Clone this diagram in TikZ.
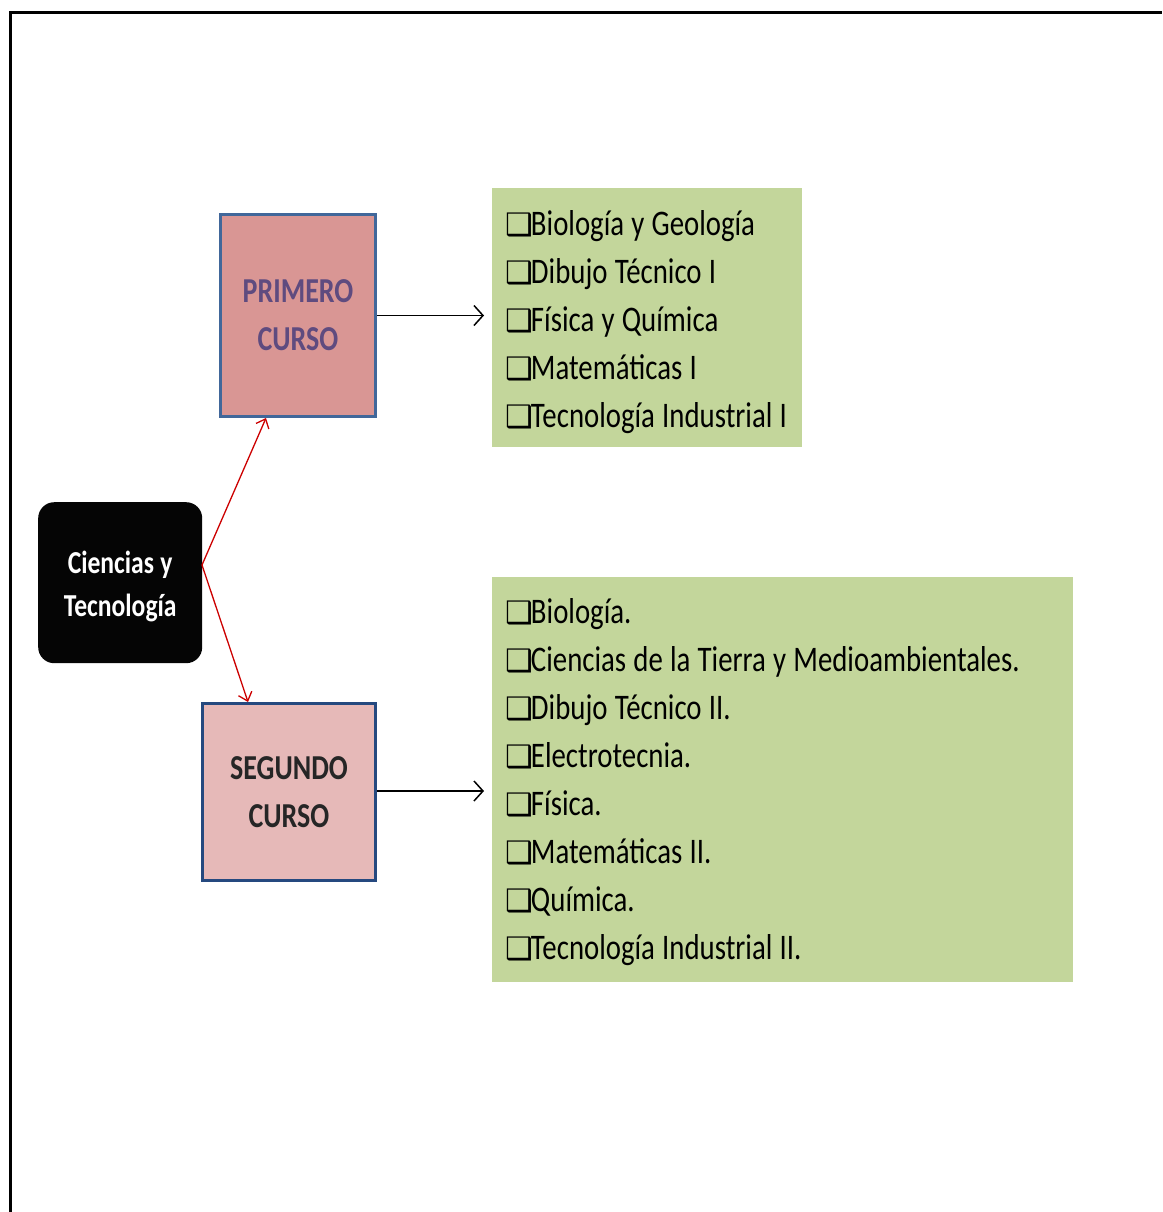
\documentclass[tikz,border=0pt]{standalone}
\usepackage{fontspec}
\setmainfont{Carlito}[FakeStretch=0.8]
\newfontfamily\boxfont{DejaVu Sans Bold}
\usetikzlibrary{arrows.meta}
\definecolor{primfill}{HTML}{D99694}
\definecolor{primdraw}{HTML}{41679A}
\definecolor{primtext}{HTML}{5F4B7F}
\definecolor{segfill}{HTML}{E6B9B8}
\definecolor{segdraw}{HTML}{25497F}
\definecolor{segtext}{HTML}{262626}
\definecolor{listgreen}{HTML}{C3D69B}
\definecolor{linkred}{HTML}{CC0000}
\newcommand{\tightsp}{\spaceskip=0.2em plus 0.05em minus 0.02em\relax}
\newcommand{\chk}{{\boxfont\fontsize{31}{31}\selectfont ❑}\hspace{-2pt}\tightsp}
\tikzset{
  frameline/.style={line width=3pt, black},
  rootbox/.style={fill=black!98, rounded corners=16pt, minimum width=164pt, minimum height=161pt, anchor=north west, align=center, text=white, font=\fontsize{32}{43}\selectfont\bfseries, inner sep=0pt},
  coursebox/.style={line width=3pt, anchor=north west, align=center, font=\fontsize{35}{48}\selectfont\bfseries, inner sep=0pt},
  listbox/.style={fill=listgreen, anchor=north west, align=left, inner xsep=13pt, inner ysep=0pt, font=\fontsize{36}{48}\selectfont, text=black},
  blackarrow/.style={line width=1.5pt, -{Straight Barb[length=9pt,width=20pt,line width=1.5pt]}},
  redarrow/.style={line width=1.3pt, linkred, -{Straight Barb[length=8pt,width=14pt,line width=1.3pt]}}
}
\begin{document}
\begin{tikzpicture}[x=1pt,y=-1pt]
\useasboundingbox (0,0) rectangle (1162,1212);
\coordinate (fa) at (10,1212);
\coordinate (fb) at (10,13);
\coordinate (fc) at (1162,13);
\draw[frameline] (fa) -- (fb) -- (fc);

\node[rootbox] (root) at (38,502) {\rule{0pt}{31pt}\tightsp Ciencias y\\Tecnología};

\node[coursebox, draw=primdraw, fill=primfill, text=primtext, minimum width=155pt, minimum height=202pt] (prim) at (219,213) {PRIMERO\\CURSO};
\node[coursebox, draw=segdraw, fill=segfill, text=segtext, minimum width=173pt, minimum height=177pt] (seg) at (201,702) {SEGUNDO\\CURSO};

\node[listbox, minimum width=310pt, minimum height=259pt, text width=284pt] (list1) at (492,188) {%
\mbox{\rule{0pt}{33pt}\chk Biología y Geología}\\
\mbox{\chk Dibujo Técnico I}\\
\mbox{\chk Física y Química}\\
\mbox{\chk Matemáticas I}\\
\mbox{\chk Tecnología Industrial I}};

\node[listbox, minimum width=581pt, minimum height=405pt, text width=555pt] (list2) at (492,577) {%
\mbox{\rule{0pt}{30pt}\chk Biología.}\\
\mbox{\chk Ciencias de la Tierra y Medioambientales.}\\
\mbox{\chk Dibujo Técnico II.}\\
\mbox{\chk Electrotecnia.}\\
\mbox{\chk Física.}\\
\mbox{\chk Matemáticas II.}\\
\mbox{\chk Química.}\\
\mbox{\chk Tecnología Industrial II.}};

\draw[blackarrow, shorten >=8pt] (prim.east) -- (prim.east -| list1.west);
\draw[blackarrow, shorten >=8pt] (seg.east |- 0,791) -- (list2.west |- 0,791);

\coordinate (r1) at (202,565);
\draw[redarrow] (r1) -- ([xshift=-32pt]prim.south);
\draw[redarrow] (r1) -- ([xshift=-41pt]seg.north);
\end{tikzpicture}
\end{document}
